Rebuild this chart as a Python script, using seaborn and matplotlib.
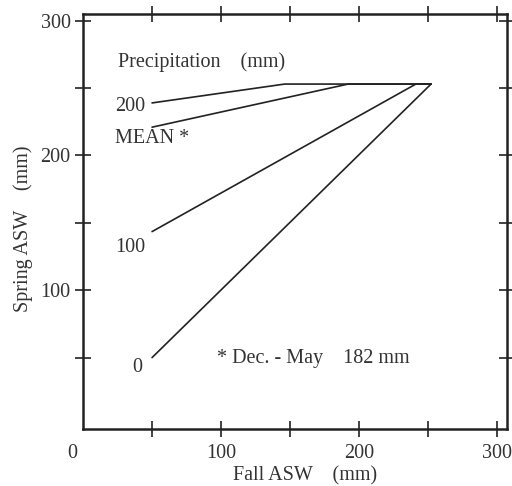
import matplotlib
matplotlib.use("Agg")
import matplotlib.pyplot as plt
import matplotlib.transforms as mtransforms
import seaborn as sns
import pandas as pd

# ---- data ----
series = ["0", "100", "MEAN", "200"]
fall_start = [50, 50, 50, 50]
spring_start = [50, 143.5, 221, 239]
fall_join = [252, 241, 192, 146]
spring_cap = [253, 253, 253, 253]
fall_end = [252, 252, 252, 252]

x_ticks_major = [0, 100, 200, 300]
x_ticks_minor = [50, 150, 250]
y_ticks_major = [100, 200, 300]
y_ticks_minor = [50, 150, 250]

rows = []
for i, s in enumerate(series):
    pts = [(fall_start[i], spring_start[i]),
           (fall_join[i], spring_cap[i]),
           (fall_end[i], spring_cap[i])]
    for k, (fx, sy) in enumerate(pts):
        rows.append({"series": s, "order": k, "fall": fx, "spring": sy})
df = pd.DataFrame(rows)

sns.set_style("ticks")
plt.rcParams["font.family"] = ["Liberation Serif", "DejaVu Serif"]
TXT = "#333333"
INK = "#222222"
FS = 14.5

fig = plt.figure(figsize=(5.12, 4.86), dpi=100)
ax = fig.add_axes([83/512, 1 - 429/486, (507 - 83)/512, (429 - 14)/486])

sns.lineplot(data=df, x="fall", y="spring", hue="series", units="series",
             estimator=None, sort=False, palette=[INK]*len(series),
             linewidth=1.2, legend=False, ax=ax)

ax.set_xlim(0, 307)
ax.set_ylim(-3, 305)

ax.set_xticks(x_ticks_major)
ax.set_xticks(x_ticks_minor, minor=True)
ax.set_yticks(y_ticks_major)
ax.set_yticks(y_ticks_minor, minor=True)
ax.set_xticklabels([str(v) for v in x_ticks_major])
ax.set_yticklabels([str(v) for v in y_ticks_major])

for which in ("major", "minor"):
    ax.tick_params(axis="both", which=which, direction="inout", length=12,
                   width=1.2, color=INK, top=True, right=True,
                   labelsize=FS, labelcolor=TXT, pad=5)
ax.tick_params(axis="y", which="major", pad=3)

for sp in ax.spines.values():
    sp.set_visible(True)
    sp.set_linewidth(1.8)
    sp.set_color(INK)

# hide the x tick marks at 0 (coincide with the y axis), shift label left
xt = ax.xaxis.get_major_ticks()[0]
xt.tick1line.set_visible(False)
xt.tick2line.set_visible(False)
off = mtransforms.ScaledTranslation(-11/100, 0, fig.dpi_scale_trans)
xt.label1.set_transform(xt.label1.get_transform() + off)

ax.set_xlabel("Fall ASW    (mm)", fontsize=FS, color=TXT)
ax.set_ylabel("Spring ASW    (mm)", fontsize=FS, color=TXT)
ax.xaxis.set_label_coords((305 - 83)/424, -(466 - 429)/415)
ax.yaxis.set_label_coords((33 - 83)/424, (429 - 229)/415)

# annotations
ax.text(25, 269, "Precipitation    (mm)", fontsize=FS, color=TXT, va="center")
ax.text(23, 236.5, "200", fontsize=FS, color=TXT, va="center")
ax.text(23, 212.5, "MEAN *", fontsize=FS, color=TXT, va="center")
ax.text(23, 131.5, "100", fontsize=FS, color=TXT, va="center")
ax.text(43, 43, "0", fontsize=FS, color=TXT, va="center", ha="right")
ax.text(97, 49, "* Dec. - May    182 mm", fontsize=FS, color=TXT, va="center")

fig.savefig("out.png", dpi=100, facecolor="white")
